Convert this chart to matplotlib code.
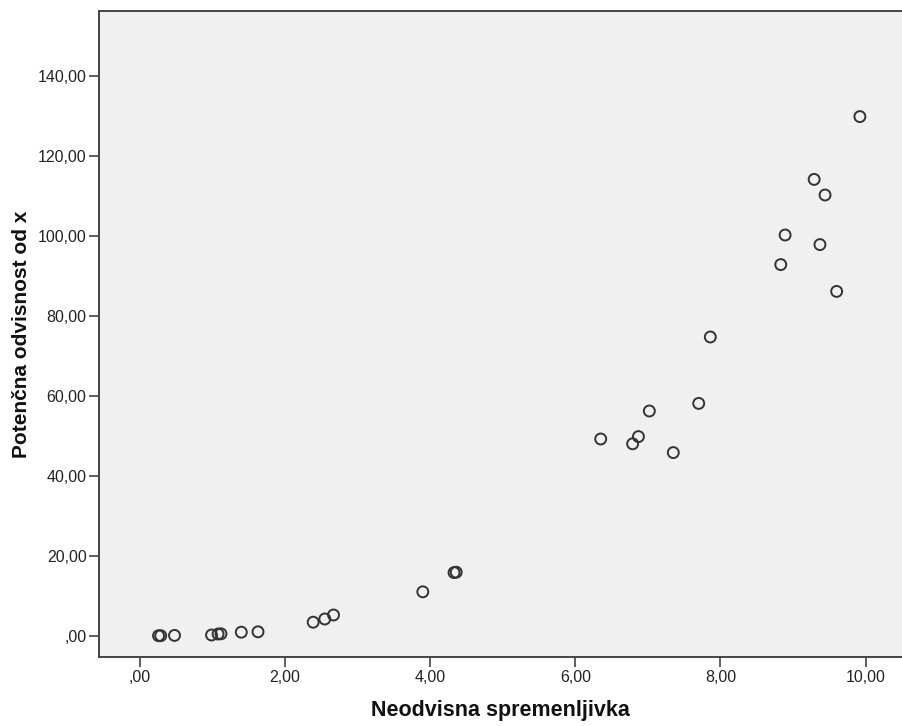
import matplotlib
matplotlib.use("Agg")
import matplotlib.pyplot as plt
from matplotlib.ticker import FuncFormatter

# values
neodvisna = [0.26, 0.29, 0.48, 0.99, 1.08, 1.12, 1.40, 1.63, 2.39, 2.55, 2.67,
             3.90, 4.33, 4.36, 6.35, 6.79, 6.87, 7.02, 7.35, 7.70, 7.86,
             8.83, 8.89, 9.29, 9.37, 9.44, 9.60, 9.92]
potencna = [0.02, 0.03, 0.10, 0.20, 0.45, 0.50, 0.90, 1.00, 3.40, 4.20, 5.20,
            11.0, 15.8, 15.9, 49.2, 48.0, 49.8, 56.2, 45.8, 58.1, 74.7,
            92.8, 100.2, 114.1, 97.8, 110.2, 86.1, 129.8]

x_ticks = [0, 2, 4, 6, 8, 10]
y_ticks = [0, 20, 40, 60, 80, 100, 120, 140]


def slo_fmt(v, pos):
    s = "%.2f" % v
    s = s.replace(".", ",")
    if s.startswith("0,"):
        s = s[1:]
    return s


plt.rcParams['font.family'] = ['Liberation Sans', 'DejaVu Sans']

fig = plt.figure(figsize=(9.02, 7.26), dpi=100)
ax = fig.add_axes([99 / 902, 1 - 657 / 726, 803 / 902, 646 / 726])
ax.set_facecolor('#f0f0f0')

ax.scatter(neodvisna, potencna, s=62, facecolors='none', edgecolors='#333333',
           linewidths=1.4, zorder=3)

ax.set_xlim(-0.56, 10.50)
ax.set_ylim(-5.3, 156.2)
ax.set_xticks(x_ticks)
ax.set_yticks(y_ticks)
ax.xaxis.set_major_formatter(FuncFormatter(slo_fmt))
ax.yaxis.set_major_formatter(FuncFormatter(slo_fmt))

for side in ['left', 'bottom', 'top']:
    ax.spines[side].set_color('#444444')
    ax.spines[side].set_linewidth(1.4)
ax.spines['right'].set_visible(False)

ax.tick_params(axis='both', length=7, width=1.2, color='#444444',
               labelsize=11.5, labelcolor='#222222', pad=2)

ax.set_xlabel("Neodvisna spremenljivka", fontsize=15.5, fontweight='bold', color='#111111')
ax.set_ylabel("Potenčna odvisnost od x", fontsize=15, fontweight='bold', color='#111111')
ax.xaxis.set_label_coords(0.5, -0.083)
ax.xaxis.label.set_va('center')
ax.yaxis.set_label_coords(-0.097, 0.5)
ax.yaxis.label.set_va('center')

plt.savefig('out.png', dpi=100)
